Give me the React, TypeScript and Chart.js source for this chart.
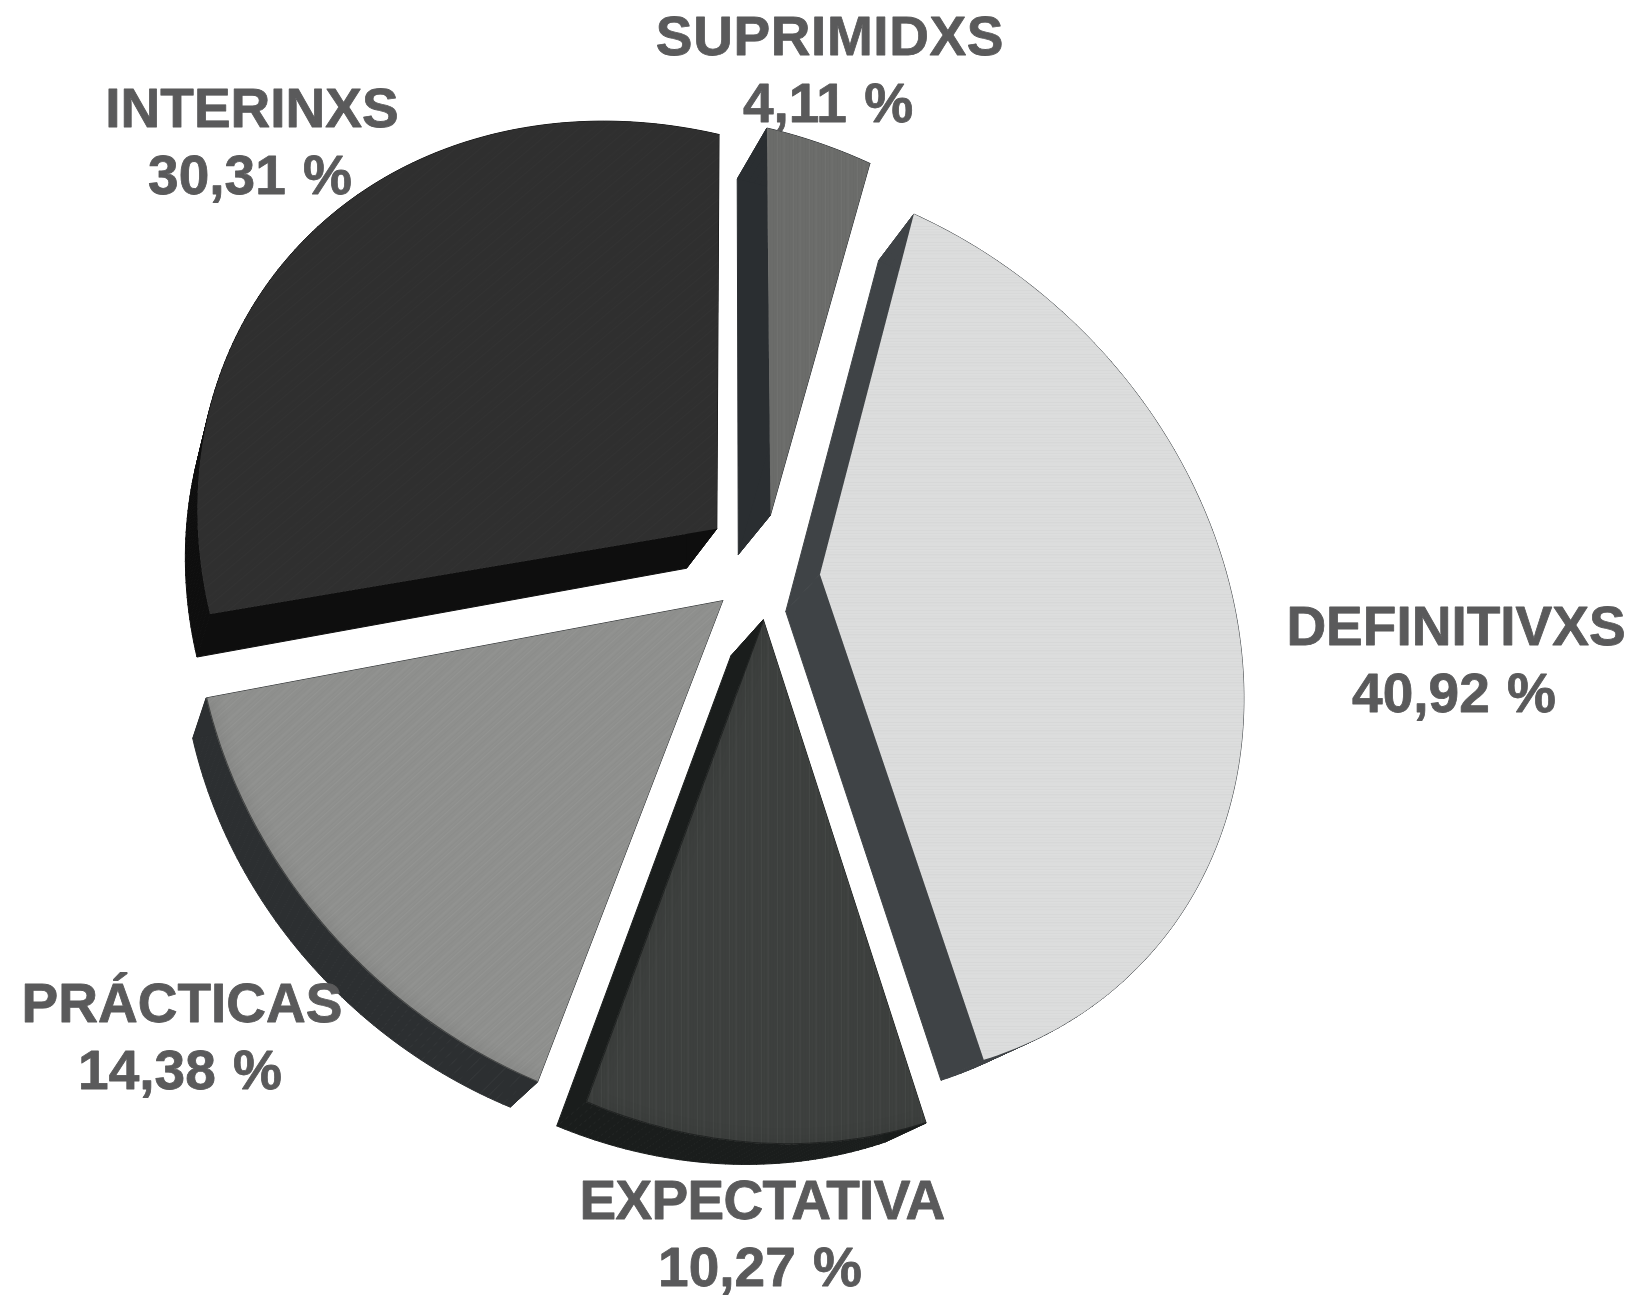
import { useEffect, useRef } from "react";
import { Chart, PieController, ArcElement } from "chart.js";

Chart.register(PieController, ArcElement);

const categories = ["SUPRIMIDXS", "DEFINITIVXS", "EXPECTATIVA", "PRÁCTICAS", "INTERINXS"];
const values = [4.11, 40.92, 10.27, 14.38, 30.31];
const offsets = [255, 255, 240, 255, 255];
const topColors = ["#6b6c6a", "#dcdddd", "#3d403e", "#8f908e", "#2f2f2f"];
const sideColors = ["#2a2e31", "#3f4346", "#1a1d1c", "#2c2f31", "#0e0e0e"];
const grainAngles = [90, 0, 90, -42, -40];
const grainAlpha = [0.18, 0.2, 0.2, 0.22, 0.08];
const edgeShade = [0, 0, 0.6, 0.6, 0];
const labelAnchors = [[830, 55], [1456, 645], [762, 1219], [182, 1022], [252, 127]];
const labelTracking = [0.6, 0, -0.7, 0, 0];

// Perspective in which the pie lies: maps pie coordinates (radius = 1) to the page.
const H = [532.441633, -89.475959, 763.548296, 120.087354, 377.869921, 567.507908, 0.087029, -0.121357];
const project = (u: number, v: number): [number, number] => {
  const w = H[6] * u + H[7] * v + 1;
  return [(H[0] * u + H[1] * v + H[2]) / w, (H[3] * u + H[4] * v + H[5]) / w];
};
const extrude = (x: number, y: number): [number, number] => [
  x - 13 - 0.035 * (x - 210) - 0.006 * (y - 600),
  y + 64 - 0.012 * x - 0.03 * y,
];

const grainRows = [0.05, 0, 0.09, 0.02, 0, 0.07, 0.13, 0.01, 0.04, 0, 0.1, 0.03, 0, 0.06, 0.02, 0.08];
function makeGrain(ctx: CanvasRenderingContext2D, angle: number, strength: number) {
  const c = document.createElement("canvas");
  c.width = 128;
  c.height = grainRows.length;
  const g = c.getContext("2d")!;
  grainRows.forEach((a, y) => {
    g.fillStyle = y % 3 === 0 ? `rgba(255,255,255,${a * strength * 1.4})` : `rgba(0,0,0,${a * strength})`;
    g.fillRect(0, y, 128, 1);
  });
  const p = ctx.createPattern(c, "repeat")!;
  p.setTransform(new DOMMatrix().rotate(angle));
  return p;
}

const perspectivePlugin = {
  id: "perspective",
  beforeDatasetsDraw(chart: any) {
    const ctx = chart.ctx as CanvasRenderingContext2D;
    const arcs = chart.getDatasetMeta(0).data;
    arcs.forEach((arc: any, i: number) => {
      const R = arc.outerRadius;
      const mid = (arc.startAngle + arc.endAngle) / 2;
      const o = offsets[i] / 4 / R;
      const ox = Math.cos(mid) * o;
      const oy = Math.sin(mid) * o;
      const pts: [number, number][] = [project(ox, oy)];
      const steps = Math.max(4, Math.ceil((arc.endAngle - arc.startAngle) / 0.015));
      for (let s = 0; s <= steps; s++) {
        const a = arc.startAngle + ((arc.endAngle - arc.startAngle) * s) / steps;
        pts.push(project(ox + Math.cos(a), oy + Math.sin(a)));
      }
      ctx.save();
      ctx.fillStyle = sideColors[i];
      ctx.strokeStyle = sideColors[i];
      ctx.lineWidth = 1;
      ctx.lineJoin = "round";
      for (let k = 0; k < pts.length; k++) {
        const p = pts[k];
        const q = pts[(k + 1) % pts.length];
        const p2 = extrude(p[0], p[1]);
        const q2 = extrude(q[0], q[1]);
        ctx.beginPath();
        ctx.moveTo(p[0], p[1]);
        ctx.lineTo(q[0], q[1]);
        ctx.lineTo(q2[0], q2[1]);
        ctx.lineTo(p2[0], p2[1]);
        ctx.closePath();
        ctx.fill();
        ctx.stroke();
      }
      const face = () => {
        ctx.beginPath();
        pts.forEach((p, k) => (k ? ctx.lineTo(p[0], p[1]) : ctx.moveTo(p[0], p[1])));
        ctx.closePath();
      };
      ctx.fillStyle = topColors[i];
      face();
      ctx.fill();
      ctx.fillStyle = makeGrain(ctx, grainAngles[i], grainAlpha[i]);
      face();
      ctx.fill();
      if (edgeShade[i] > 0) {
        face();
        ctx.clip();
        ctx.strokeStyle = `rgba(15,17,17,${edgeShade[i]})`;
        ctx.shadowColor = `rgba(15,17,17,${edgeShade[i]})`;
        ctx.shadowBlur = 14;
        ctx.lineWidth = 2;
        ctx.beginPath();
        pts.slice(1).forEach((p, k) => (k ? ctx.lineTo(p[0], p[1]) : ctx.moveTo(p[0], p[1])));
        if (i === 2) ctx.lineTo(pts[0][0], pts[0][1]);
        ctx.stroke();
      }
      ctx.restore();
    });
    return false;
  },
  afterDraw(chart: any) {
    const ctx = chart.ctx as CanvasRenderingContext2D & { letterSpacing: string; wordSpacing: string };
    ctx.save();
    ctx.fillStyle = "#5a5a5b";
    ctx.strokeStyle = "#5a5a5b";
    ctx.lineWidth = 0.8;
    ctx.lineJoin = "round";
    ctx.textAlign = "center";
    ctx.textBaseline = "alphabetic";
    ctx.font = 'bold 55px "Liberation Sans"';
    categories.forEach((c, i) => {
      const [x, y] = labelAnchors[i];
      const value = values[i].toFixed(2).replace(".", ",") + " %";
      ctx.letterSpacing = `${labelTracking[i]}px`;
      ctx.wordSpacing = "0px";
      ctx.fillText(c, x, y);
      ctx.strokeText(c, x, y);
      ctx.letterSpacing = "0px";
      ctx.wordSpacing = "2px";
      ctx.fillText(value, x - 2, y + 67);
      ctx.strokeText(value, x - 2, y + 67);
    });
    ctx.restore();
  },
};

export default function App() {
  const ref = useRef<HTMLCanvasElement>(null);
  useEffect(() => {
    const chart = new Chart(ref.current!, {
      type: "pie",
      data: {
        labels: categories,
        datasets: [{ data: values, backgroundColor: topColors, offset: offsets, borderWidth: 0 }],
      },
      options: {
        responsive: false,
        animation: false,
        layout: { padding: 0 },
        plugins: { legend: { display: false }, tooltip: { enabled: false } },
      },
      plugins: [perspectivePlugin],
    } as any);
    return () => chart.destroy();
  }, []);
  return <canvas ref={ref} width={1634} height={1296} style={{ position: "absolute", left: 0, top: 0 }} />;
}
